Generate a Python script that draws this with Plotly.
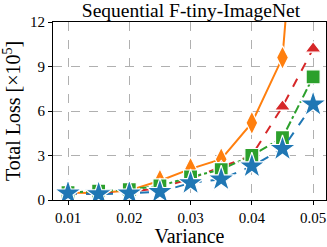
import plotly.graph_objects as go

variance = [0.01, 0.015, 0.02, 0.025, 0.03, 0.035, 0.04, 0.045, 0.05]
orange_vals = [0.5, 0.45, 0.65, 1.3, 2.1, 2.75, 5.2, 9.6, 35.0]
red_vals = [0.45, 0.4, 0.55, 0.8, 1.45, 2.2, 3.0, 6.3, 10.2]
green_vals = [0.5, 0.6, 0.7, 0.95, 1.55, 2.05, 3.0, 4.2, 8.3]
blue_vals = [0.45, 0.4, 0.45, 0.55, 1.15, 1.4, 2.28, 3.45, 6.45]
x_ticks = [0.01, 0.02, 0.03, 0.04, 0.05]
y_ticks = [0, 3, 6, 9, 12]

series = [
    (orange_vals, "#ff7f0e", "diamond-tall", 17, "solid"),
    (red_vals, "#d62728", "triangle-up", 14, "dash"),
    (green_vals, "#2ca02c", "square", 14, "dashdot"),
    (blue_vals, "#1f77b4", "star", 20, "dash"),
]

fig = go.Figure()
for vals, color, sym, size, dash in series:
    fig.add_trace(go.Scatter(
        x=variance, y=vals, mode="lines+markers",
        line=dict(color=color, width=2, dash=dash),
        marker=dict(symbol=sym, size=size, color=color,
                    line=dict(color="white", width=1.2)),
        cliponaxis=True, showlegend=False))

font = "Liberation Serif, Times New Roman, serif"
fig.update_layout(
    width=327, height=247,
    margin=dict(l=53, r=1, t=22, b=47),
    paper_bgcolor="white", plot_bgcolor="white",
    font=dict(family=font, size=15, color="black"),
    title=dict(text="Sequential F-tiny-ImageNet", x=0.584, xanchor="center",
               y=0.985, yanchor="top", font=dict(size=19.5)),
)
fig.update_xaxes(
    range=[0.00755, 0.0521], tickvals=x_ticks,
    ticktext=[f"{v:.2f}" for v in x_ticks],
    showgrid=True, gridcolor="#b0b0b0", griddash="dash", gridwidth=1,
    showline=True, linecolor="black", linewidth=1.2, mirror=True,
    ticks="outside", ticklen=4, tickcolor="black",
    title=dict(text="Variance", font=dict(size=20), standoff=7),
    zeroline=False)
fig.update_yaxes(
    range=[0, 12], tickvals=y_ticks,
    showgrid=True, gridcolor="#b0b0b0", griddash="dash", gridwidth=1,
    showline=True, linecolor="black", linewidth=1.2, mirror=True,
    ticks="outside", ticklen=4, tickcolor="black",
    title=dict(text="Total Loss [×10<sup>5</sup>]", font=dict(size=20), standoff=13),
    zeroline=False)

fig.write_html("out.html", config={"displayModeBar": False},
               post_script="document.body.style.margin='0';")
